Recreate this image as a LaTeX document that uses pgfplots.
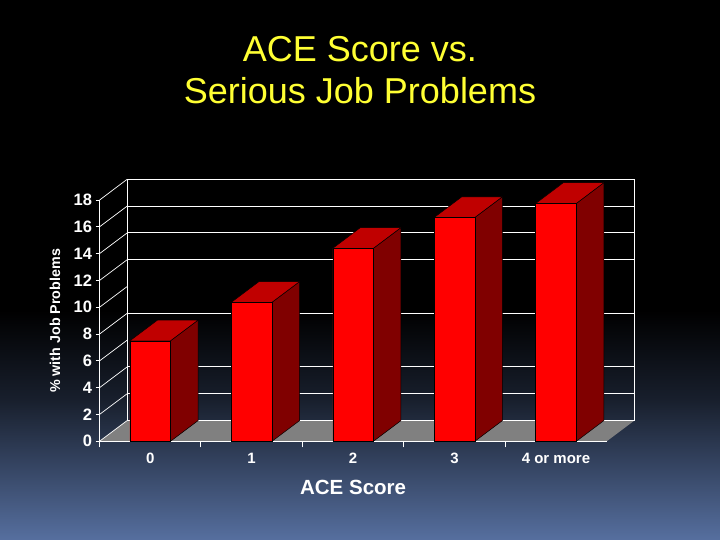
\documentclass[border=0pt]{standalone}
\usepackage{fontspec}
\setmainfont{Liberation Sans}
\usepackage{pgfplots}
\pgfplotsset{compat=1.18}
\definecolor{slideblue}{HTML}{566F9F}
\definecolor{titleyellow}{HTML}{FFFF33}
\definecolor{barfront}{HTML}{FF0000}
\definecolor{bartop}{HTML}{C00000}
\definecolor{barside}{HTML}{800000}
\begin{document}
\begin{tikzpicture}[x=1pt,y=1pt]
% slide background, 1px = 1pt
\fill[black] (0,0) rectangle (720,540);
\shade[top color=slideblue!28!black,bottom color=slideblue] (0,0) rectangle (720,140);
\shade[top color=black,bottom color=slideblue!28!black] (0,140) rectangle (720,230);
\node[font=\fontsize{36}{42}\selectfont,text=titleyellow,align=center,anchor=center] at (360,470) {ACE Score vs.\\Serious Job Problems};
\begin{axis}[
    at={(99.5pt,98.7pt)}, anchor=south west,
    scale only axis,
    width=534.8pt, height=262pt,
    xmin=-0.5, xmax=4.772,
    ymin=0, ymax=19.55,
    clip=false,
    axis line style={draw=none},
    xtick pos=bottom, ytick pos=left,
    tick align=outside,
    xtick={0,1,2,3,4},
    xticklabels={0,1,2,3,4 or more},
    minor xtick={-0.5,0.5,1.5,2.5,3.5},
    ytick={0,2,...,18},
    major tick length=4pt, minor tick length=6pt,
    major x tick style={draw=none},
    minor x tick style={white,line width=0.9pt},
    major y tick style={white,line width=0.9pt},
    /pgf/number format/assume math mode=true,
    xticklabel style={text=white,font=\bfseries\fontsize{15}{17}\selectfont,yshift=-4pt},
    yticklabel style={text=white,font=\bfseries\fontsize{16.5}{18}\selectfont},
    xlabel={ACE Score},
    x label style={at={(axis cs:2,-3.41)},anchor=center,text=white,font=\bfseries\fontsize{20.5}{22}\selectfont},
    ylabel={\% with Job Problems},
    y label style={at={(axis cs:-0.939,8.98)},anchor=center,text=white,font=\bfseries\fontsize{14.3}{16}\selectfont},
]
% floor
\addplot[fill=gray,draw=none] coordinates {(-0.5,0) (4.5,0) (4.772,1.545) (-0.228,1.545)} --cycle;
% back wall: gridlines that show in the picture (6 and 10 are missing there)
\addplot[white,line width=1pt] coordinates {(-0.228,1.545) (4.772,1.545)};
\addplot[white,line width=1pt] coordinates {(-0.228,3.545) (4.772,3.545)};
\addplot[white,line width=1pt] coordinates {(-0.228,5.545) (4.772,5.545)};
\addplot[white,line width=1pt] coordinates {(-0.228,9.545) (4.772,9.545)};
\addplot[white,line width=1pt] coordinates {(-0.228,13.545) (4.772,13.545)};
\addplot[white,line width=1pt] coordinates {(-0.228,15.545) (4.772,15.545)};
\addplot[white,line width=1pt] coordinates {(-0.228,17.545) (4.772,17.545)};
\addplot[white,line width=1pt] coordinates {(-0.228,19.545) (4.772,19.545)};
\addplot[white,line width=1pt] coordinates {(-0.228,1.545) (-0.228,19.545)};
\addplot[white,line width=1pt] coordinates {(4.772,1.545) (4.772,19.545)};
% side wall diagonals
\addplot[white,line width=0.7pt] coordinates {(-0.5,0) (-0.228,1.545)};
\addplot[white,line width=0.7pt] coordinates {(-0.5,2) (-0.228,3.545)};
\addplot[white,line width=0.7pt] coordinates {(-0.5,4) (-0.228,5.545)};
\addplot[white,line width=0.7pt] coordinates {(-0.5,6) (-0.228,7.545)};
\addplot[white,line width=0.7pt] coordinates {(-0.5,8) (-0.228,9.545)};
\addplot[white,line width=0.7pt] coordinates {(-0.5,10) (-0.228,11.545)};
\addplot[white,line width=0.7pt] coordinates {(-0.5,12) (-0.228,13.545)};
\addplot[white,line width=0.7pt] coordinates {(-0.5,14) (-0.228,15.545)};
\addplot[white,line width=0.7pt] coordinates {(-0.5,16) (-0.228,17.545)};
\addplot[white,line width=0.7pt] coordinates {(-0.5,18) (-0.228,19.545)};
% front axis lines
\addplot[white,line width=1pt] coordinates {(-0.5,18) (-0.5,0) (4.5,0)};
% bar sides
\addplot[fill=barside,draw=black,line width=0.5pt] coordinates {(0.2,0) (0.472,1.545) (0.472,9.045) (0.2,7.5)} --cycle;
\addplot[fill=barside,draw=black,line width=0.5pt] coordinates {(1.2,0) (1.472,1.545) (1.472,11.915) (1.2,10.37)} --cycle;
\addplot[fill=barside,draw=black,line width=0.5pt] coordinates {(2.2,0) (2.472,1.545) (2.472,15.945) (2.2,14.4)} --cycle;
\addplot[fill=barside,draw=black,line width=0.5pt] coordinates {(3.2,0) (3.472,1.545) (3.472,18.245) (3.2,16.7)} --cycle;
\addplot[fill=barside,draw=black,line width=0.5pt] coordinates {(4.2,0) (4.472,1.545) (4.472,19.295) (4.2,17.75)} --cycle;
% bar tops
\addplot[fill=bartop,draw=black,line width=0.5pt] coordinates {(-0.2,7.5) (0.2,7.5) (0.472,9.045) (0.072,9.045)} --cycle;
\addplot[fill=bartop,draw=black,line width=0.5pt] coordinates {(0.8,10.37) (1.2,10.37) (1.472,11.915) (1.072,11.915)} --cycle;
\addplot[fill=bartop,draw=black,line width=0.5pt] coordinates {(1.8,14.4) (2.2,14.4) (2.472,15.945) (2.072,15.945)} --cycle;
\addplot[fill=bartop,draw=black,line width=0.5pt] coordinates {(2.8,16.7) (3.2,16.7) (3.472,18.245) (3.072,18.245)} --cycle;
\addplot[fill=bartop,draw=black,line width=0.5pt] coordinates {(3.8,17.75) (4.2,17.75) (4.472,19.295) (4.072,19.295)} --cycle;
% bar fronts
\addplot[ybar,bar width=40.5pt,fill=barfront,draw=black,line width=0.5pt] coordinates {(0,7.5) (1,10.37) (2,14.4) (3,16.7) (4,17.75)};
\end{axis}
\end{tikzpicture}
\end{document}
